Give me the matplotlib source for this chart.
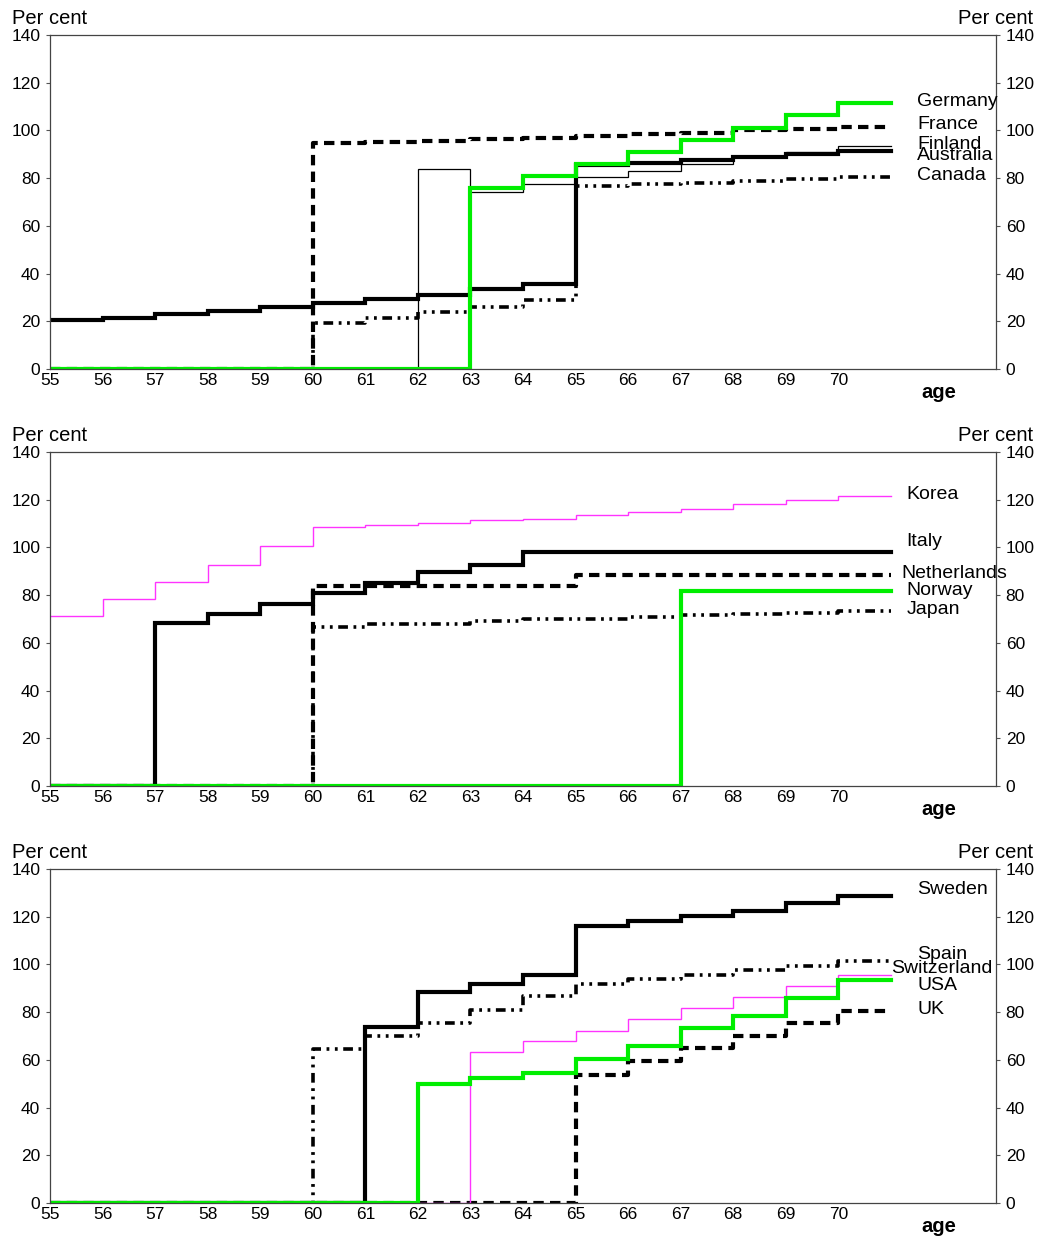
import matplotlib
matplotlib.use("Agg")
import matplotlib.pyplot as plt
import numpy as np

plt.rcParams['font.family'] = ['Liberation Sans', 'DejaVu Sans']
plt.rcParams['lines.scale_dashes'] = False

ages = list(range(55, 71))  # step start ages 55..70, last step ends at 71
age_ticks = list(range(55, 71))
y_ticks = [0, 20, 40, 60, 80, 100, 120, 140]

# ---- Panel 1 ----
australia = [20.5, 21.5, 23, 24.5, 26, 27.5, 29.5, 31, 33.5, 35.5, 85.5, 86.3, 87.4, 88.9, 90.3, 91.5]
finland   = [0, 0, 0, 0, 0, 0, 0, 84, 74.3, 77.4, 80.6, 83, 86, 89, 90.8, 93.4]
france    = [0, 0, 0, 0, 0, 94.7, 95.2, 95.7, 96.5, 97, 97.8, 98.5, 99, 100.2, 100.7, 101.3]
canada    = [0, 0, 0, 0, 0, 19.2, 21.2, 24, 26, 28.8, 76.6, 77.5, 78, 78.8, 79.6, 80.5]
germany   = [0, 0, 0, 0, 0, 0, 0, 0, 76, 81, 85.8, 91, 96.1, 101.2, 106.5, 111.5]

# ---- Panel 2 ----
korea       = [71.3, 78.2, 85.6, 92.8, 100.5, 108.5, 109.2, 110.3, 111.4, 112.1, 113.8, 115, 116.2, 118, 119.8, 121.5]
italy       = [0, 0, 68.4, 72.2, 76.1, 81, 85.2, 89.8, 92.6, 98, 98, 98, 98, 98, 98, 98]
netherlands = [0, 0, 0, 0, 0, 83.9, 83.9, 83.9, 83.9, 83.9, 88.6, 88.6, 88.6, 88.6, 88.6, 88.6]
norway      = [0, 0, 0, 0, 0, 0, 0, 0, 0, 0, 0, 0, 81.7, 81.7, 81.7, 81.7]
japan       = [0, 0, 0, 0, 0, 66.6, 67.7, 68.1, 69.1, 69.8, 70.2, 70.8, 71.5, 71.9, 72.6, 73.3]

# ---- Panel 3 ----
sweden      = [0, 0, 0, 0, 0, 0, 73.8, 88.4, 91.9, 95.7, 116.2, 118, 120.1, 122.2, 125.7, 128.8]
spain       = [0, 0, 0, 0, 0, 64.5, 69.8, 75.4, 81, 86.6, 91.9, 93.9, 95.7, 97.8, 99.5, 101.3]
switzerland = [0, 0, 0, 0, 0, 0, 0, 0, 63.5, 67.7, 72.3, 77.1, 81.7, 86.3, 91.1, 95.7]
usa         = [0, 0, 0, 0, 0, 0, 0, 50, 52.4, 54.7, 60.5, 65.6, 73.3, 78.2, 85.9, 93.6]
uk          = [0, 0, 0, 0, 0, 0, 0, 0, 0, 0, 53.8, 59.4, 65, 69.8, 75.4, 80.3]

# styles
thick = dict(color='black', lw=3.0, ls='-')
thin = dict(color='black', lw=0.9, ls='-')
dashed = dict(color='black', lw=3.0, ls=(0, (7.5, 4.5)))
dashdotdot = dict(color='black', lw=2.6, ls=(0, (7, 4, 2, 4, 2, 4)))
green = dict(color='#00ee00', lw=3.0, ls='-')
magenta = dict(color='#ff33ff', lw=1.0, ls='-')

panels = [
    [  # (name, values, style, label x, label y)
        ('Australia', australia, thick, 71.5, 89.3),
        ('Finland', finland, thin, 71.5, 94.3),
        ('France', france, dashed, 71.5, 102.3),
        ('Canada', canada, dashdotdot, 71.5, 80.9),
        ('Germany', germany, green, 71.5, 112.3),
    ],
    [
        ('Korea', korea, magenta, 71.3, 122.2),
        ('Italy', italy, thick, 71.3, 102.5),
        ('Netherlands', netherlands, dashed, 71.2, 89.1),
        ('Japan', japan, dashdotdot, 71.3, 74.0),
        ('Norway', norway, green, 71.3, 81.9),
    ],
    [
        ('Sweden', sweden, thick, 71.5, 131.3),
        ('Spain', spain, dashdotdot, 71.5, 104.1),
        ('UK', uk, dashed, 71.5, 81.0),
        ('Switzerland', switzerland, magenta, 71.0, 98.2),
        ('USA', usa, green, 71.5, 91.0),
    ],
]

W, H = 1046, 1241
fig = plt.figure(figsize=(W / 100, H / 100), dpi=100)

ax_left = 50 / W
ax_w = (996 - 50) / W
ax_h = (369 - 35) / H
tops = [35, 452, 869]
fs_tick = 12.5
fs_lab = 14
fs_unit = 14.5

xs = np.array(ages + [ages[-1] + 1])
for i, (series, top) in enumerate(zip(panels, tops)):
    bottom_px = top + 334
    ax = fig.add_axes([ax_left, 1 - bottom_px / H, ax_w, ax_h])
    for name, vals, st, lx, ly in series:
        ys = np.array(vals + [vals[-1]])
        ax.step(xs, ys, where='post', solid_joinstyle='miter', **st)
        ax.text(lx, ly, name, fontsize=fs_lab, va='center', ha='left', color='black')
    ax.set_xlim(55, 73)
    ax.set_ylim(0, 140)
    ax.set_xticks(age_ticks)
    ax.set_xticklabels([str(a) for a in age_ticks], fontsize=fs_tick)
    ax.set_yticks(y_ticks)
    ax.set_yticklabels([str(v) for v in y_ticks], fontsize=fs_tick)
    ax.tick_params(axis='x', length=0, pad=3)
    ax.tick_params(axis='y', direction='out', length=3, width=0.8, color='#555555',
                   left=True, right=True, labelleft=True, labelright=True, pad=4)
    for sp in ax.spines.values():
        sp.set_color('#444444')
        sp.set_linewidth(0.9)
    ax.text(0.9397, -0.069, 'age', transform=ax.transAxes, fontsize=fs_unit,
            fontweight='bold', ha='center', va='center')
    fig.text(12 / W, 1 - (top - 17) / H, 'Per cent', fontsize=fs_unit, ha='left', va='center')
    fig.text(1033 / W, 1 - (top - 17) / H, 'Per cent', fontsize=fs_unit, ha='right', va='center')

fig.savefig('out.png', dpi=100, facecolor='white')
